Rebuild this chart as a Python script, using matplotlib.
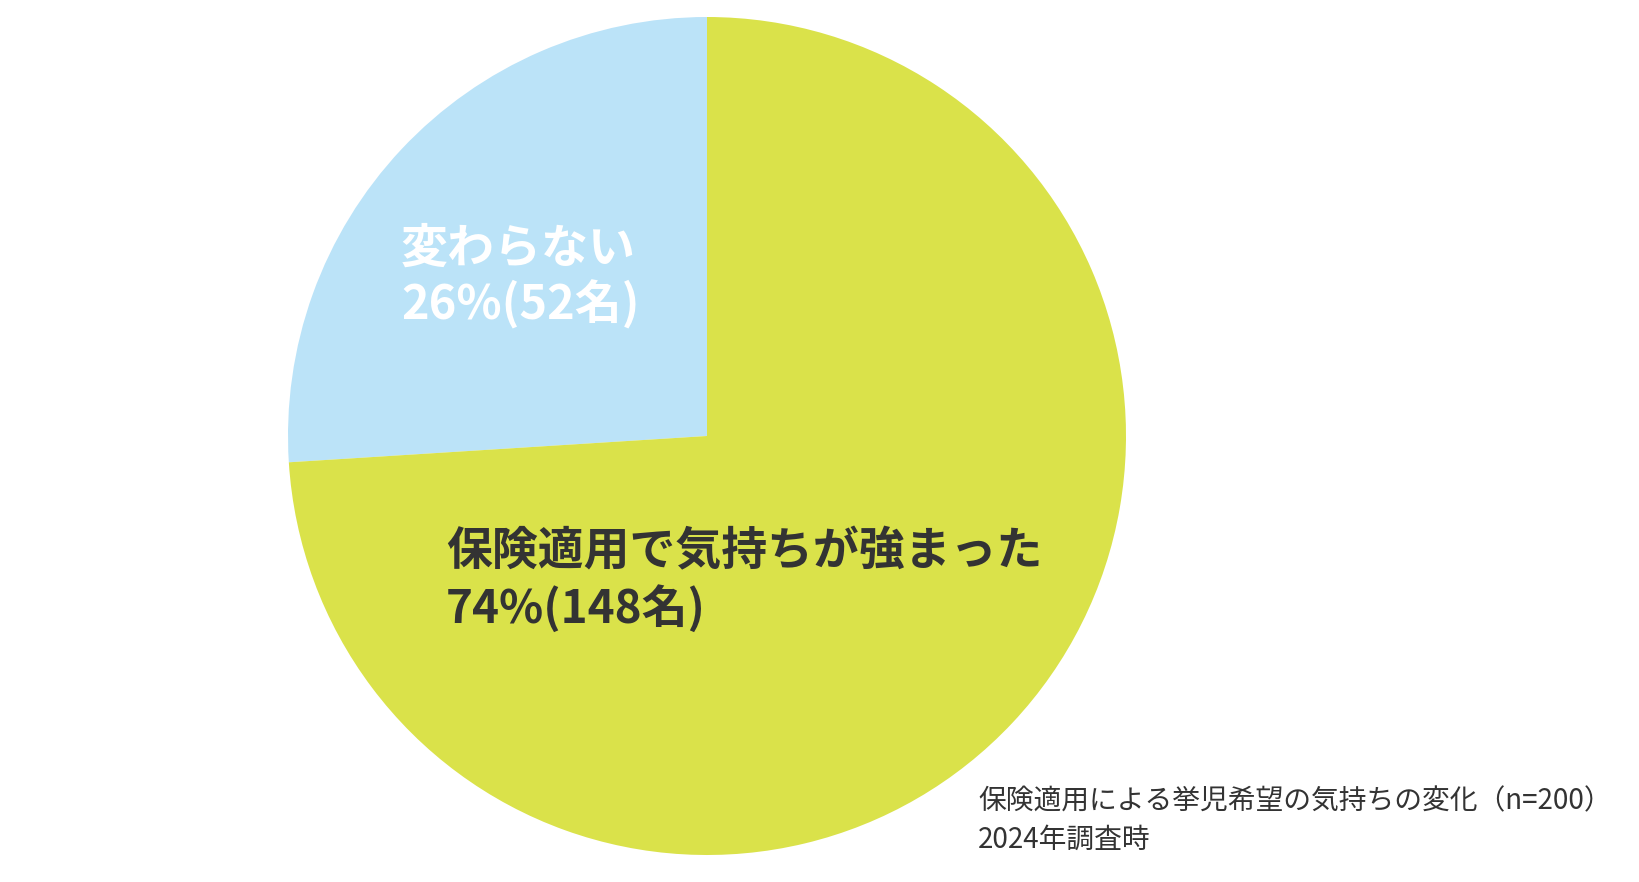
import matplotlib
matplotlib.use("Agg")
import matplotlib.pyplot as plt

plt.rcParams['font.family'] = ['Noto Sans CJK JP', 'DejaVu Sans']

# data
labels = ['変わらない', '保険適用で気持ちが強まった']
counts = [52, 148]
percents = [26, 74]
colors = ['#BBE3F8', '#DAE24A']
note_lines = ['保険適用による挙児希望の気持ちの変化（n=200）', '2024年調査時']

W, H = 1640, 882
fig = plt.figure(figsize=(W / 100, H / 100), dpi=100)

# pie centred at (707, 436) px, radius 419 px
cx, cy, r = 707, 436, 419
ax = fig.add_axes([(cx - r) / W, (H - cy - r) / H, 2 * r / W, 2 * r / H])
ax.pie(counts, colors=colors, startangle=90, counterclock=True,
       radius=1, wedgeprops=dict(linewidth=0))
ax.set_xlim(-1, 1)
ax.set_ylim(-1, 1)
ax.set_aspect('equal')
ax.axis('off')


def px(x, y):
    return x / W, 1 - y / H


# slice labels
label_pos = [(401, 249, 305, 'white', 33.8), (446, 552, 609, '#333333', 33)]
for lab, n, p, (x, y1, y2, col, fs) in zip(labels, counts, percents, label_pos):
    fig.text(*px(x, y1), lab, fontsize=fs, fontweight='bold', color=col,
             ha='left', va='center')
    fig.text(*px(x, y2), f'{p}%({n}名)', fontsize=fs, fontweight='bold',
             color=col, ha='left', va='center')

# note
fig.text(*px(978, 801), note_lines[0], fontsize=20, color='#333333',
         ha='left', va='center')
fig.text(*px(978, 840), note_lines[1], fontsize=20, color='#333333',
         ha='left', va='center')

fig.savefig('out.png', dpi=100, facecolor='white')
